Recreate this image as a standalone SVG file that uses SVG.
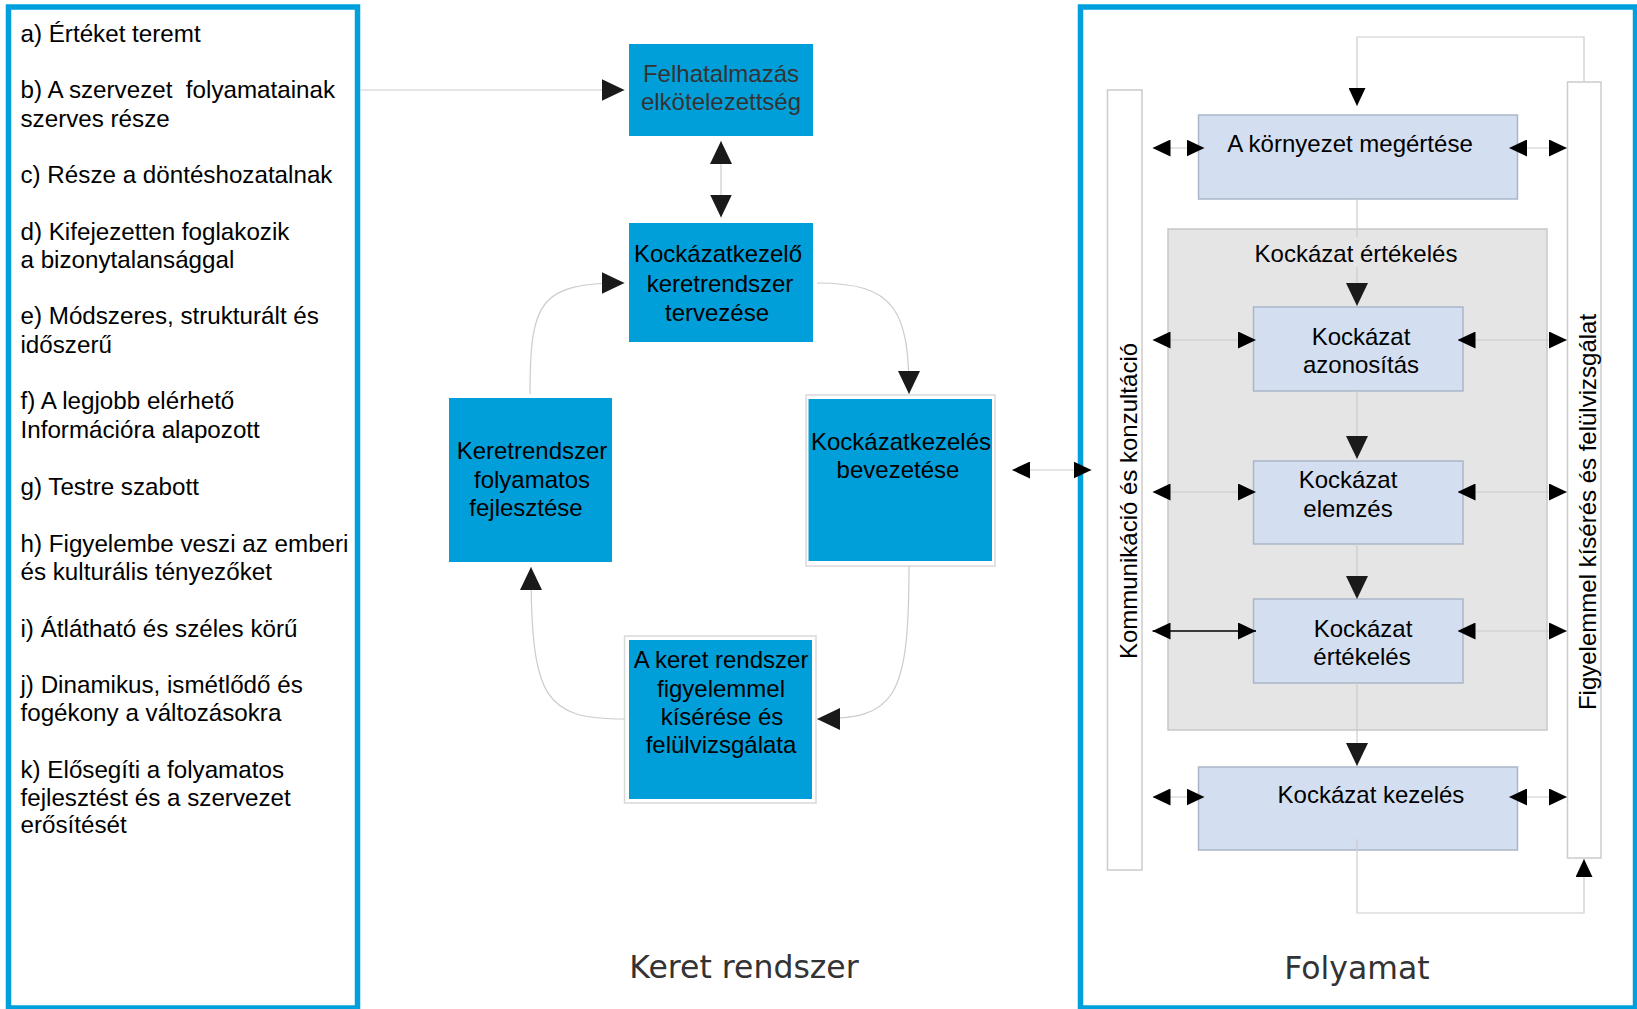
<svg xmlns="http://www.w3.org/2000/svg" width="1637" height="1009" viewBox="0 0 1637 1009">
<style>
.panel{fill:#fff;stroke:#00a0dc;stroke-width:5.5}
.t{font-family:"Liberation Sans",Arial,sans-serif;font-size:24.2px;fill:#000}
.tc{font-family:"Liberation Sans",Arial,sans-serif;font-size:24px;fill:#000;text-anchor:middle}
.cap{font-family:"DejaVu Sans","Open Sans",sans-serif;font-size:31.5px;fill:#333;text-anchor:middle}
.blue{fill:#009fda}
.frame{fill:#fff;stroke:#d9d9d9;stroke-width:1.5}
.lb{fill:#d3dff0;stroke:#aab6c8;stroke-width:1.5}
.grp{fill:#e5e5e5;stroke:#c8c8c8;stroke-width:1.5}
.bar{fill:#fff;stroke:#cccccc;stroke-width:1.5}
.c{fill:none;stroke:#cccccc;stroke-width:1.2}
.ck{fill:none;stroke:#000;stroke-width:1.5}
</style>
<defs>
<marker id="ab" viewBox="0 0 23 22" refX="23" refY="11" markerWidth="23" markerHeight="22" markerUnits="userSpaceOnUse" orient="auto-start-reverse"><path d="M0,0 L23,11 L0,22 z" fill="#1a1a1a"/></marker>
<marker id="as" viewBox="0 0 18 17" refX="18" refY="8.5" markerWidth="18" markerHeight="17" markerUnits="userSpaceOnUse" orient="auto-start-reverse"><path d="M0,0 L18,8.5 L0,17 z" fill="#000"/></marker>
</defs>
<rect width="1637" height="1009" fill="#fff"/>

<g id="criteria">
<rect class="panel" x="8.5" y="7" width="349" height="1001"/>
<text class="t" x="20.5" y="42">a) Értéket teremt</text>
<text class="t" x="20.5" y="98" style="white-space:pre">b) A szervezet  folyamatainak</text>
<text class="t" x="20.5" y="127">szerves része</text>
<text class="t" x="20.5" y="183">c) Része a döntéshozatalnak</text>
<text class="t" x="20.5" y="240">d) Kifejezetten foglakozik</text>
<text class="t" x="20.5" y="268">a bizonytalansággal</text>
<text class="t" x="20.5" y="324">e) Módszeres, strukturált és</text>
<text class="t" x="20.5" y="353">időszerű</text>
<text class="t" x="20.5" y="409">f) A legjobb elérhető</text>
<text class="t" x="20.5" y="438">Információra alapozott</text>
<text class="t" x="20.5" y="495">g) Testre szabott</text>
<text class="t" x="20.5" y="552">h) Figyelembe veszi az emberi</text>
<text class="t" x="20.5" y="580">és kulturális tényezőket</text>
<text class="t" x="20.5" y="637">i) Átlátható és széles körű</text>
<text class="t" x="20.5" y="693">j) Dinamikus, ismétlődő és</text>
<text class="t" x="20.5" y="721">fogékony a változásokra</text>
<text class="t" x="20.5" y="778">k) Elősegíti a folyamatos</text>
<text class="t" x="20.5" y="806">fejlesztést és a szervezet</text>
<text class="t" x="20.5" y="833">erősítését</text>
</g>

<g id="process-panel">
<rect class="panel" x="1080.5" y="7" width="555" height="1001"/>
</g>

<g id="mandate">
<rect class="blue" x="629" y="44" width="184" height="92"/>
<text class="tc" x="721" y="82" style="fill:#333">Felhatalmazás</text>
<text class="tc" x="721" y="110" style="fill:#333">elkötelezettség</text>
</g>
<g id="design">
<rect class="blue" x="629" y="223" width="184" height="119"/>
<text class="tc" x="718" y="262">Kockázatkezelő</text>
<text class="tc" x="720" y="292">keretrendszer</text>
<text class="tc" x="717" y="321">tervezése</text>
</g>
<g id="implement">
<rect class="frame" x="806" y="395" width="189" height="171"/>
<rect class="blue" x="808.5" y="399" width="183.5" height="162"/>
<text class="tc" x="901" y="450">Kockázatkezelés</text>
<text class="tc" x="898" y="478">bevezetése</text>
</g>
<g id="monitor">
<rect class="frame" x="624.5" y="636" width="191.5" height="167"/>
<rect class="blue" x="629" y="640" width="183" height="159"/>
<text class="tc" x="721" y="668">A keret rendszer</text>
<text class="tc" x="721" y="697">figyelemmel</text>
<text class="tc" x="722" y="725">kísérése és</text>
<text class="tc" x="721" y="753">felülvizsgálata</text>
</g>
<g id="improve">
<rect class="blue" x="449" y="398" width="163" height="164"/>
<text class="tc" x="532" y="459">Keretrendszer</text>
<text class="tc" x="532" y="488">folyamatos</text>
<text class="tc" x="526" y="516">fejlesztése</text>
</g>
<g id="label-framework">
<text class="cap" x="744" y="978">Keret rendszer</text>
</g>

<g id="communication">
<rect class="bar" x="1107.5" y="90" width="34.5" height="780"/>
<text class="tc" transform="translate(1137,501) rotate(-90)">Kommunikáció és konzultáció</text>
</g>
<g id="monitoring">
<rect class="bar" x="1567.5" y="82" width="33.5" height="776"/>
<text class="tc" transform="translate(1596,512) rotate(-90)">Figyelemmel kísérés és felülvizsgálat</text>
</g>
<g id="context">
<rect class="lb" x="1198.5" y="115" width="319" height="84"/>
<text class="tc" x="1350" y="152">A környezet megértése</text>
</g>
<g id="assessment">
<rect class="grp" x="1168" y="229" width="379" height="501"/>
<text class="tc" x="1356" y="262">Kockázat értékelés</text>
</g>
<g id="identification">
<rect class="lb" x="1253.5" y="307" width="209.5" height="84"/>
<text class="tc" x="1361" y="345">Kockázat</text>
<text class="tc" x="1361" y="373">azonosítás</text>
</g>
<g id="analysis">
<rect class="lb" x="1253.5" y="461" width="209.5" height="83"/>
<text class="tc" x="1348" y="488">Kockázat</text>
<text class="tc" x="1348" y="517">elemzés</text>
</g>
<g id="evaluation">
<rect class="lb" x="1253.5" y="599" width="209.5" height="84"/>
<text class="tc" x="1363" y="637">Kockázat</text>
<text class="tc" x="1362" y="665">értékelés</text>
</g>
<g id="treatment">
<rect class="lb" x="1198.5" y="767" width="319" height="83"/>
<text class="tc" x="1371" y="803">Kockázat kezelés</text>
</g>
<g id="label-process">
<text class="cap" x="1357" y="979">Folyamat</text>
</g>

<g id="connectors">
<path class="c" d="M360,90 H624.5" marker-end="url(#ab)"/>
<path class="c" d="M721,141 V217.5" marker-start="url(#ab)" marker-end="url(#ab)"/>
<path class="c" d="M817,283 C895,283 909,310 909,394" marker-end="url(#ab)"/>
<path class="c" d="M909,566 C909,700 895,719 817,719" marker-end="url(#ab)"/>
<path class="c" d="M625,719 C545,719 531,700 531,567" marker-end="url(#ab)"/>
<path class="c" d="M530,394 C530,300 540,283 624.5,283" marker-end="url(#ab)"/>
<path class="c" d="M1012,470 H1091.5" marker-start="url(#as)" marker-end="url(#as)"/>

<path class="c" d="M1584,82 V37 H1357 V106" marker-end="url(#as)"/>
<path class="c" d="M1357,839 V913 H1584 V859" marker-end="url(#as)"/>
<path class="c" d="M1357,199 V237 M1357,267 V306" marker-end="url(#ab)"/>
<path class="c" d="M1357,391 V459" marker-end="url(#ab)"/>
<path class="c" d="M1357,544 V599" marker-end="url(#ab)"/>
<path class="c" d="M1357,683 V766" marker-end="url(#ab)"/>

<path class="c" d="M1152.5,148 H1204.5" marker-start="url(#as)" marker-end="url(#as)"/>
<path class="c" d="M1509,148 H1567" marker-start="url(#as)" marker-end="url(#as)"/>
<path class="c" d="M1152.5,340 H1256" marker-start="url(#as)" marker-end="url(#as)"/>
<path class="c" d="M1457.5,340 H1567" marker-start="url(#as)" marker-end="url(#as)"/>
<path class="c" d="M1152.5,492 H1256" marker-start="url(#as)" marker-end="url(#as)"/>
<path class="c" d="M1457.5,492 H1567" marker-start="url(#as)" marker-end="url(#as)"/>
<path class="ck" d="M1152.5,631 H1256" marker-start="url(#as)" marker-end="url(#as)"/>
<path class="c" d="M1457.5,631 H1567" marker-start="url(#as)" marker-end="url(#as)"/>
<path class="c" d="M1152.5,797 H1204.5" marker-start="url(#as)" marker-end="url(#as)"/>
<path class="c" d="M1509,797 H1567" marker-start="url(#as)" marker-end="url(#as)"/>
</g>
</svg>
